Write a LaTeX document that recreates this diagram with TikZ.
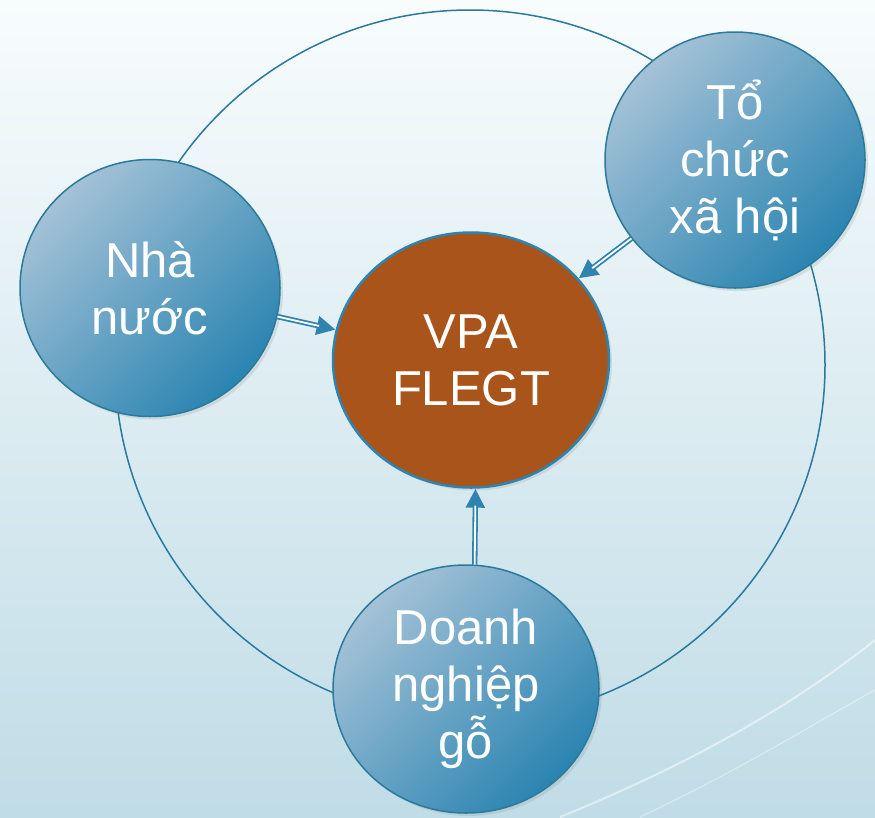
\documentclass[tikz,border=0pt]{standalone}
\usepackage{fontspec}
\setmainfont{Liberation Sans}
\usetikzlibrary{positioning, arrows.meta, shadows, shapes.geometric}
\definecolor{ringblue}{HTML}{2B7A9C}
\definecolor{linkblue}{HTML}{2E84AE}
\definecolor{ballhi}{HTML}{A4C2D7}
\definecolor{balllo}{HTML}{2A84B1}
\definecolor{rust}{HTML}{A9541A}
\definecolor{skytop}{HTML}{F8FCFD}
\definecolor{skybot}{HTML}{C0DCE6}
\newcommand{\Link}[2]{%
    \draw[linkbody] (#1) -- (#2);
    \draw[linkgap] (#1) -- (#2);}
\tikzset{
    ball/.style={ellipse, text=white, align=center, inner sep=0pt,
      font=\fontsize{49}{57}\selectfont,
      drop shadow={opacity=0.18, shadow xshift=3pt, shadow yshift=-3pt}},
    actor/.style={ball, draw=ringblue, line width=1.5pt,
      top color=ballhi, bottom color=balllo, shading angle=45},
    core/.style={ball, fill=rust, draw=linkblue, line width=2.5pt},
    linkbody/.style={draw=linkblue, line width=5.4pt, -{Triangle[length=19pt, width=18pt]}},
    linkgap/.style={draw=white, line width=1.8pt, shorten >=17pt},
    ring/.style={circle, draw=ringblue, line width=1.5pt, inner sep=0pt},
}
\begin{document}
\begin{tikzpicture}[x=1pt, y=-1pt]
    % backdrop
    \shade[top color=skytop, bottom color=skybot] (0,0) rectangle (875,817);
    \useasboundingbox (0,0) rectangle (875,817);
    \draw[white, line width=2pt, opacity=0.5] (560,817) .. controls (700,760) and (800,700) .. (875,640);
    \draw[white, line width=1pt, opacity=0.4] (640,817) .. controls (740,770) and (820,720) .. (875,690);

    \node[ring, minimum size=710pt] (orbit) at (470,365) {};

    \node[core, minimum width=276pt, minimum height=255pt] (vpa) at (471,360) {VPA\\FLEGT};
    \node[actor, minimum width=260pt, minimum height=257pt] (nha) at (150,288) {Nhà\\nước};
    \node[actor, minimum width=260pt, minimum height=256pt] (to) at (735,160) {Tổ\\chức\\xã hội};
    \node[actor, minimum width=266pt, minimum height=248pt] (dn) at (466,689) {Doanh\\nghiệp\\gỗ};

    \Link{nha}{vpa}
    \Link{to}{vpa}
    \Link{dn.86}{vpa.-88}
\end{tikzpicture}
\end{document}
